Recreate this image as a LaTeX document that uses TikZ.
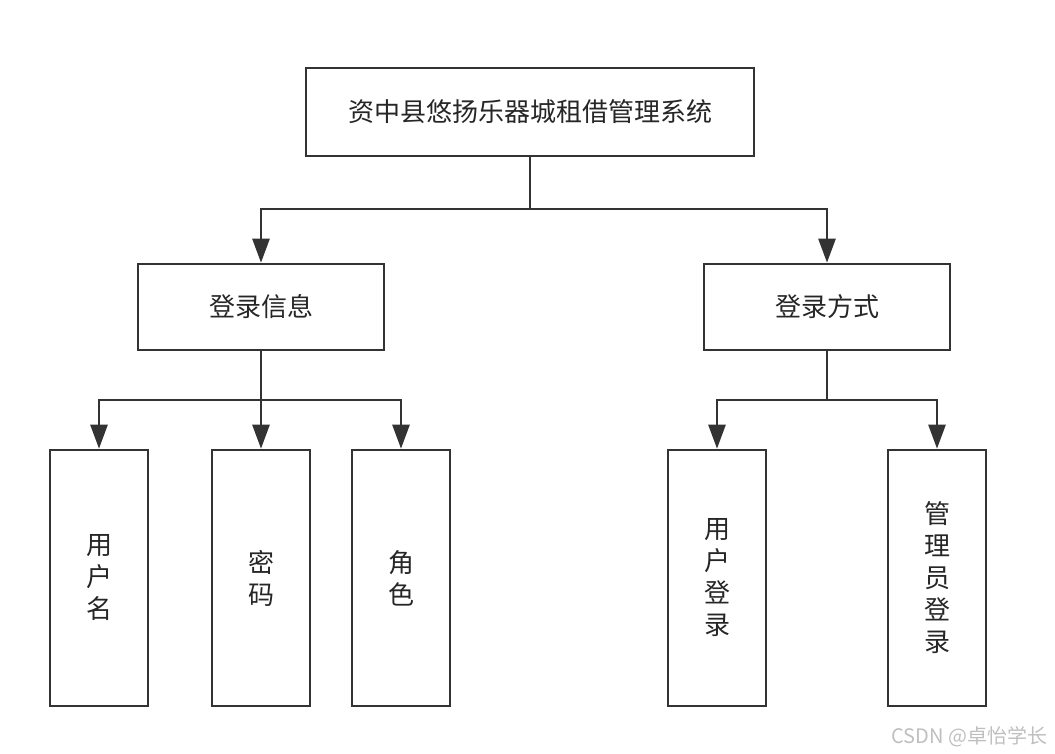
\documentclass[tikz,border=0pt]{standalone}
\usepackage{fontspec}
\newfontfamily\cjk{Noto Sans CJK SC}
\usetikzlibrary{arrows.meta}
\begin{document}
\begin{tikzpicture}[x=1pt,y=-1pt,
  box/.style={draw=black!80, line width=2.6pt, fill=white, inner sep=0pt, font=\cjk\fontsize{26}{32}\selectfont, text=black!85, align=center},
  conn/.style={draw=black!80, line width=2.6pt, -{Triangle[length=24pt,width=17pt]}},
  plain/.style={draw=black!80, line width=2.6pt}]
\useasboundingbox (0,0) rectangle (1055,753);
\node[box, minimum width=448pt, minimum height=88pt] (top) at (530,112) {资中县悠扬乐器城租借管理系统};
\node[box, minimum width=246pt, minimum height=86pt] (info) at (261,307) {登录信息};
\node[box, minimum width=246pt, minimum height=86pt] (way) at (827,307) {登录方式};
\node[box, minimum width=98pt, minimum height=256pt] (user) at (99,578) {用\\户\\名};
\node[box, minimum width=98pt, minimum height=256pt] (pwd) at (261,578) {密\\码};
\node[box, minimum width=98pt, minimum height=256pt] (role) at (401,578) {角\\色};
\node[box, minimum width=98pt, minimum height=256pt] (ulogin) at (717,578) {用\\户\\登\\录};
\node[box, minimum width=98pt, minimum height=256pt] (alogin) at (937,578) {管\\理\\员\\登\\录};
\coordinate (j1) at (530,209);
\coordinate (j2) at (261,400);
\coordinate (j3) at (827,400);
\draw[plain] (top.south) -- (j1);
\draw[conn] (j1) -| (info.north);
\draw[conn] (j1) -| (way.north);
\draw[plain] (info.south) -- (j2);
\draw[conn] (j2) -| (user.north);
\draw[conn] (j2) -- (pwd.north);
\draw[conn] (j2) -| (role.north);
\draw[plain] (way.south) -- (j3);
\draw[conn] (j3) -| (ulogin.north);
\draw[conn] (j3) -| (alogin.north);
\node[font=\cjk\fontsize{20}{24}\selectfont, text=black!25, anchor=east] (wm) at (1051,737) {CSDN @卓怡学长};
\end{tikzpicture}
\end{document}
